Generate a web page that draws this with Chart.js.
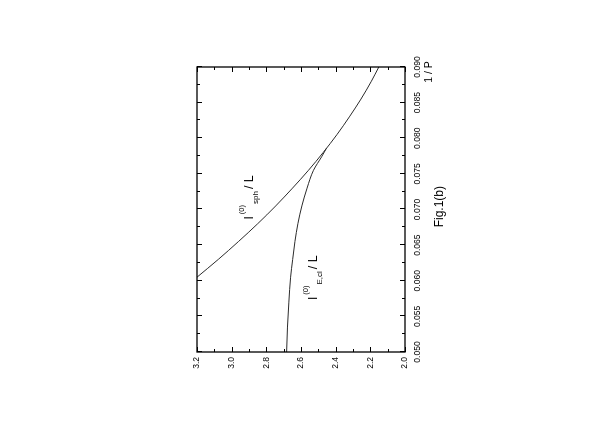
<!DOCTYPE html>
<html>
<head>
<meta charset="utf-8">
<script src="https://cdn.jsdelivr.net/npm/chart.js@4.4.1/dist/chart.umd.min.js"></script>
<style>
  html, body { margin: 0; padding: 0; background: #fff; }
  #page { position: relative; width: 616px; height: 436px; overflow: hidden; background: #fff; }
  /* the figure is printed turned a quarter turn counter-clockwise */
  #fig { position: absolute; left: 0; top: 0; transform-origin: 0 0; transform: translate(0, 436px) rotate(-90deg); }
</style>
</head>
<body>
<div id="page"><canvas id="fig" width="436" height="616"></canvas></div>
<script>
// ---------- data ----------
const pTicks = [0.050, 0.055, 0.060, 0.065, 0.070, 0.075, 0.080, 0.085, 0.090];
const pMinorTicks = [0.0525, 0.0575, 0.0625, 0.0675, 0.0725, 0.0775, 0.0825, 0.0875];
const valueTicks = [2.0, 2.2, 2.4, 2.6, 2.8, 3.0, 3.2];
const valueMinorTicks = [2.1, 2.3, 2.5, 2.7, 2.9, 3.1];

// I(0)sph / L
const sphP = [0.0605, 0.063, 0.0655, 0.068, 0.0705, 0.073, 0.0755, 0.078, 0.0805, 0.083, 0.0855, 0.088, 0.090];
const sphValues = [3.200, 3.077, 2.961, 2.850, 2.746, 2.649, 2.557, 2.472, 2.393, 2.321, 2.254, 2.194, 2.151];

// I(0)E,cl / L  (ends where it meets the sph curve)
const eclP = [0.050, 0.0535, 0.057, 0.0605, 0.063, 0.0655, 0.068, 0.0705, 0.073, 0.0755, 0.0774, 0.0786];
const eclValues = [2.683, 2.678, 2.670, 2.660, 2.648, 2.635, 2.618, 2.595, 2.565, 2.528, 2.481, 2.453];

// curve labels: where the "I" starts (baseline), in data units
const sphLabel = { p: 0.0686, v: 2.877, sub: "sph" };
const eclLabel = { p: 0.0573, v: 2.506, sub: "E,cl" };

const FONT = "'Liberation Sans', Arial, sans-serif";

// ---------- frame, inside ticks, labels ----------
const framePlugin = {
  id: "framePlugin",
  afterDraw(chart) {
    const ctx = chart.ctx;
    const a = chart.chartArea;
    const xs = chart.scales.x;
    const ys = chart.scales.y;
    ctx.save();
    ctx.strokeStyle = "#000";
    ctx.lineWidth = 1;

    function tickX(values, len) {
      values.forEach((v) => {
        const px = Math.round(xs.getPixelForValue(v)) + 0.5;
        ctx.beginPath();
        ctx.moveTo(px, a.bottom); ctx.lineTo(px, a.bottom - len);
        ctx.moveTo(px, a.top); ctx.lineTo(px, a.top + len);
        ctx.stroke();
      });
    }
    function tickY(values, len) {
      values.forEach((v) => {
        const py = Math.round(ys.getPixelForValue(v)) + 0.5;
        ctx.beginPath();
        ctx.moveTo(a.left, py); ctx.lineTo(a.left + len, py);
        ctx.moveTo(a.right, py); ctx.lineTo(a.right - len, py);
        ctx.stroke();
      });
    }
    tickX(pTicks, 5);
    tickX(pMinorTicks, 3);
    tickY(valueTicks, 5);
    tickY(valueMinorTicks, 3);

    ctx.lineWidth = 1.3;
    ctx.strokeRect(a.left, a.top, a.right - a.left, a.bottom - a.top);

    // axis title at the end of the 1/P axis, and figure caption
    ctx.fillStyle = "#000";
    ctx.textBaseline = "alphabetic";
    ctx.textAlign = "center";
    ctx.font = "10.5px " + FONT;
    ctx.fillText("1 / P", a.right - 5, a.bottom + 27);
    ctx.font = "12px " + FONT;
    ctx.fillText("Fig.1(b)", xs.getPixelForValue(0.0704), a.bottom + 38);

    // curve labels
    ctx.textAlign = "left";
    function curveLabel(lab) {
      let x = xs.getPixelForValue(lab.p);
      const y = ys.getPixelForValue(lab.v);
      ctx.font = "12px " + FONT;
      ctx.fillText("I", x, y);
      x += ctx.measureText("I").width + 2;
      ctx.font = "7.5px " + FONT;
      ctx.fillText("(0)", x, y - 9);
      x += ctx.measureText("(0)").width + 1;
      ctx.font = "8px " + FONT;
      ctx.fillText(lab.sub, x, y + 5);
      x += ctx.measureText(lab.sub).width + 2;
      ctx.font = "12.5px " + FONT;
      ctx.fillText("/ L", x, y);
    }
    curveLabel(sphLabel);
    curveLabel(eclLabel);
    ctx.restore();
  },
};

const curveStyle = {
  borderColor: "#2b2b2b",
  borderWidth: 1,
  pointRadius: 0,
  fill: false,
  cubicInterpolationMode: "monotone",
};

new Chart(document.getElementById("fig"), {
  type: "line",
  data: {
    datasets: [
      Object.assign({ label: "sph", data: sphP.map((p, i) => ({ x: p, y: sphValues[i] })) }, curveStyle),
      Object.assign({ label: "E,cl", data: eclP.map((p, i) => ({ x: p, y: eclValues[i] })) }, curveStyle),
    ],
  },
  options: {
    responsive: false,
    animation: false,
    devicePixelRatio: 1,
    layout: { padding: { left: 54, right: 67, top: 197, bottom: 191 } },
    plugins: { legend: { display: false }, tooltip: { enabled: false } },
    scales: {
      x: {
        type: "linear",
        min: 0.05,
        max: 0.09,
        afterBuildTicks: (s) => { s.ticks = pTicks.map((v) => ({ value: v })); },
        afterFit: (s) => { s.height = 20; },
        grid: { display: false, drawTicks: false },
        border: { display: false },
        ticks: {
          autoSkip: false,
          maxRotation: 0,
          padding: 8,
          color: "#000",
          font: { family: FONT, size: 8.5 },
          callback: (v) => Number(v).toFixed(3),
        },
      },
      y: {
        type: "linear",
        min: 2.0,
        max: 3.2,
        afterBuildTicks: (s) => { s.ticks = valueTicks.map((v) => ({ value: v })); },
        afterFit: (s) => { s.width = 30; },
        grid: { display: false, drawTicks: false },
        border: { display: false },
        ticks: {
          autoSkip: false,
          padding: 5,
          color: "#000",
          font: { family: FONT, size: 8.5 },
          callback: (v) => Number(v).toFixed(1),
        },
      },
    },
  },
  plugins: [framePlugin],
});
</script>
</body>
</html>
